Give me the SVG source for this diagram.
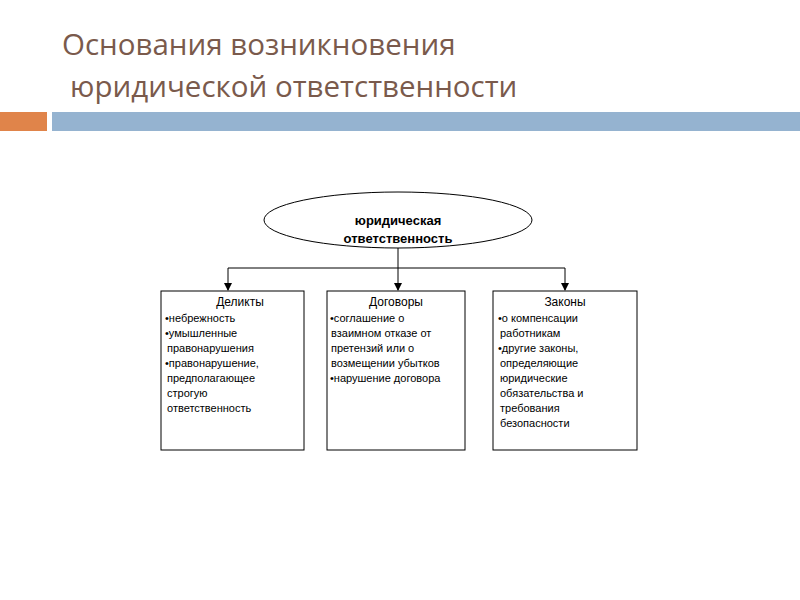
<svg xmlns="http://www.w3.org/2000/svg" width="800" height="600" viewBox="0 0 800 600">
<style>
.t{font-family:"Open Sans","DejaVu Sans",sans-serif;font-size:29.5px;fill:#7a5a4c}
.b{fill:#fff;stroke:#000;stroke-width:1}
.s{font-family:"Liberation Sans",Arial,sans-serif;font-size:11px;fill:#000}
.h{font-family:"Liberation Sans",Arial,sans-serif;font-size:12px;fill:#000;text-anchor:middle}
.c{stroke:#000;stroke-width:1;fill:none}
</style>
<defs><marker id="a" markerWidth="8" markerHeight="8" refX="7" refY="4" orient="auto" markerUnits="userSpaceOnUse"><path d="M0,0 L8,4 L0,8 z" fill="#000"/></marker></defs>
<rect width="800" height="600" fill="#fff"/>
<text class="t" x="62" y="55">Основания возникновения</text>
<text class="t" x="70" y="97">юридической ответственности</text>
<rect x="0" y="112" width="47" height="19" fill="#e0844a"/>
<rect x="52" y="112" width="748" height="19" fill="#95b3d0"/>
<g id="connectors">
<path class="c" d="M398,248 V290" marker-end="url(#a)"/>
<path class="c" d="M228,268 H565"/>
<path class="c" d="M228,268 V290" marker-end="url(#a)"/>
<path class="c" d="M565,268 V290" marker-end="url(#a)"/>
</g>
<g id="root">
<ellipse class="b" cx="398" cy="220" rx="134" ry="28"/>
<text font-family="Liberation Sans,Arial,sans-serif" font-size="13" font-weight="bold" text-anchor="middle"><tspan x="398" y="225">юридическая</tspan><tspan x="398" y="243">ответственность</tspan></text>
</g>
<g id="delikty">
<rect class="b" x="161" y="291" width="143" height="159"/>
<text class="h" x="240" y="306">Деликты</text>
<text class="s"><tspan x="165" y="322">•небрежность</tspan><tspan x="165" y="337">•умышленные</tspan><tspan x="167" y="352">правонарушения</tspan><tspan x="165" y="367">•правонарушение,</tspan><tspan x="167" y="382">предполагающее</tspan><tspan x="167" y="397">строгую</tspan><tspan x="167" y="412">ответственность</tspan></text>
</g>
<g id="dogovory">
<rect class="b" x="327" y="291" width="138" height="159"/>
<text class="h" x="396" y="306">Договоры</text>
<text class="s"><tspan x="330" y="322">•соглашение  о</tspan><tspan x="331" y="337">взаимном отказе от</tspan><tspan x="331" y="352">претензий или о</tspan><tspan x="331" y="367">возмещении  убытков</tspan><tspan x="330" y="382">•нарушение  договора</tspan></text>
</g>
<g id="zakony">
<rect class="b" x="493" y="291" width="144" height="159"/>
<text class="h" x="565" y="306">Законы</text>
<text class="s"><tspan x="498" y="322">•о компенсации</tspan><tspan x="500" y="337">работникам</tspan><tspan x="498" y="352">•другие законы,</tspan><tspan x="500" y="367">определяющие</tspan><tspan x="500" y="382">юридические</tspan><tspan x="500" y="397">обязательства и</tspan><tspan x="500" y="412">требования</tspan><tspan x="500" y="427">безопасности</tspan></text>
</g>
</svg>
